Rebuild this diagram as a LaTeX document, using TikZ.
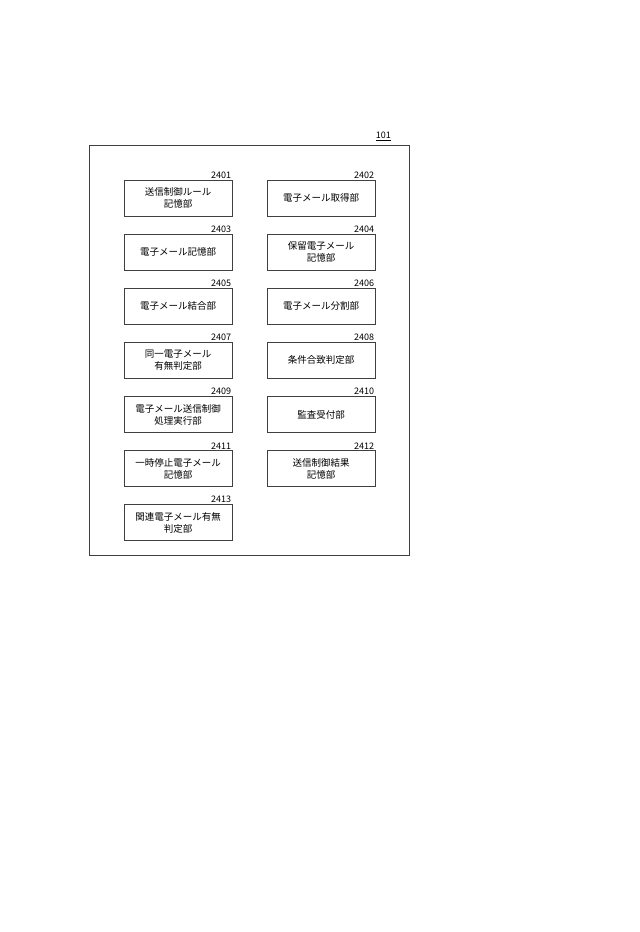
\documentclass[tikz,border=0pt]{standalone}
\usepackage{fontspec}
\setmainfont{Noto Sans CJK JP}
\usetikzlibrary{positioning}
\tikzstyle{block} = [rectangle, draw=black!75, line width=0.6pt, fill=white,
    text width=100pt, align=center, minimum width=108pt, minimum height=36pt,
    inner sep=0pt, font=\fontsize{9.5}{12}\selectfont]
\tikzstyle{num} = [font=\fontsize{9}{10}\selectfont, inner sep=1pt, anchor=south east]

\begin{document}
\begin{tikzpicture}[x=1pt, y=-1pt, node distance = 17.5pt and 34.5pt]
  \useasboundingbox (0,0) rectangle (640,932);
  % frame
  \node [draw=black!75, line width=0.6pt, minimum width=320pt, minimum height=410pt,
    inner sep=0pt] (dev) at (249,350) {};
  \node [font=\fontsize{9}{10}\selectfont, anchor=south east, inner sep=1pt] (devnum)
    at (392,142) {\underline{101}};
  % place nodes
  \node [block] (memrule) at (178,198) {送信制御ルール\\記憶部};
  \node [block, right=of memrule] (getmail) {電子メール取得部};
  \node [block, below=of memrule] (memmail) {電子メール記憶部};
  \node [block, below=of getmail] (memhold) {保留電子メール\\記憶部};
  \node [block, below=of memmail] (joinmail) {電子メール結合部};
  \node [block, below=of memhold] (splitmail) {電子メール分割部};
  \node [block, below=of joinmail] (samemail) {同一電子メール\\有無判定部};
  \node [block, below=of splitmail] (condmatch) {条件合致判定部};
  \node [block, below=of samemail] (sendexec) {電子メール送信制御\\処理実行部};
  \node [block, below=of condmatch] (audit) {監査受付部};
  \node [block, below=of sendexec] (memstop) {一時停止電子メール\\記憶部};
  \node [block, below=of audit] (memresult) {送信制御結果\\記憶部};
  \node [block, below=of memstop] (relmail) {関連電子メール有無\\判定部};
  % numbers
  \node [num] at (memrule.north east) {2401};
  \node [num] at (getmail.north east) {2402};
  \node [num] at (memmail.north east) {2403};
  \node [num] at (memhold.north east) {2404};
  \node [num] at (joinmail.north east) {2405};
  \node [num] at (splitmail.north east) {2406};
  \node [num] at (samemail.north east) {2407};
  \node [num] at (condmatch.north east) {2408};
  \node [num] at (sendexec.north east) {2409};
  \node [num] at (audit.north east) {2410};
  \node [num] at (memstop.north east) {2411};
  \node [num] at (memresult.north east) {2412};
  \node [num] at (relmail.north east) {2413};
\end{tikzpicture}
\end{document}
